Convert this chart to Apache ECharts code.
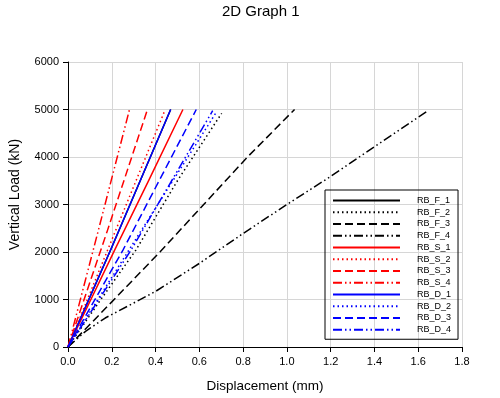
<!DOCTYPE html>
<html>
<head>
<meta charset="utf-8">
<script src="https://cdn.jsdelivr.net/npm/echarts@6/dist/echarts.min.js"></script>
<style>
	html, body {margin: 0; padding: 0; background: #fff;}
	#chart-holder {width: 500px; height: 398px;}
</style>
</head>
<body>
<div id="chart-holder"></div>
<script type="text/javascript">
	// 数据 (displacement mm / load kN)
	var names = ['RB_F_1', 'RB_F_2', 'RB_F_3', 'RB_F_4', 'RB_S_1', 'RB_S_2', 'RB_S_3', 'RB_S_4', 'RB_D_1', 'RB_D_2', 'RB_D_3', 'RB_D_4'];
	var colors = ['#000000', '#000000', '#000000', '#000000', '#ff0000', '#ff0000', '#ff0000', '#ff0000', '#0000ff', '#0000ff', '#0000ff', '#0000ff'];

	var rbF1Disp = [0, 0.2, 0.469];
	var rbF1Load = [0, 2100, 5000];
	var rbF2Disp = [0, 0.15, 0.31, 0.5, 0.702];
	var rbF2Load = [0, 1000, 2040, 3500, 4920];
	var rbF3Disp = [0, 0.2, 0.42, 0.62, 0.82, 1.035];
	var rbF3Load = [0, 950, 2000, 3000, 4000, 5000];
	var rbF4Disp = [0, 0.08, 0.17, 0.4, 0.6, 0.8, 1.0, 1.2, 1.33, 1.637];
	var rbF4Load = [0, 330, 610, 1170, 1760, 2390, 3000, 3590, 4000, 4950];
	var rbS1Disp = [0, 0.213, 0.37, 0.525];
	var rbS1Load = [0, 2040, 3520, 5000];
	var rbS2Disp = [0, 0.22, 0.439];
	var rbS2Load = [0, 2480, 4940];
	var rbS3Disp = [0, 0.18, 0.363];
	var rbS3Load = [0, 2450, 5000];
	var rbS4Disp = [0, 0.14, 0.281];
	var rbS4Load = [0, 2480, 5000];
	var rbD1Disp = [0, 0.2, 0.469];
	var rbD1Load = [0, 2100, 5000];
	var rbD2Disp = [0, 0.3, 0.68];
	var rbD2Load = [0, 2200, 4960];
	var rbD3Disp = [0, 0.251, 0.586];
	var rbD3Load = [0, 2040, 5000];
	var rbD4Disp = [0, 0.288, 0.661];
	var rbD4Load = [0, 2040, 4975];

	var xTicks = [0, 0.2, 0.4, 0.6, 0.8, 1.0, 1.2, 1.4, 1.6, 1.8];
	var yTicks = [0, 1000, 2000, 3000, 4000, 5000, 6000];

	var disps = [rbF1Disp, rbF2Disp, rbF3Disp, rbF4Disp, rbS1Disp, rbS2Disp, rbS3Disp, rbS4Disp, rbD1Disp, rbD2Disp, rbD3Disp, rbD4Disp];
	var loads = [rbF1Load, rbF2Load, rbF3Load, rbF4Load, rbS1Load, rbS2Load, rbS3Load, rbS4Load, rbD1Load, rbD2Load, rbD3Load, rbD4Load];

	// 线型: 实线, 点线, 虚线, 点划线
	var dashes = ['solid', [1.5, 3], [8, 4], [9, 3, 1.5, 3, 1.5, 3]];

	var font = '"Liberation Sans", Arial, sans-serif';
	var series = [];
	for (var i = 0; i < names.length; i++) {
		var data = [];
		for (var j = 0; j < disps[i].length; j++) {
			data.push([disps[i][j], loads[i][j]]);
		}
		series.push({
			name: names[i],
			type: 'line',
			symbol: 'none',
			silent: true,
			animation: false,
			data: data,
			lineStyle: {color: colors[i], width: 1.5, type: dashes[i % 4]},
			itemStyle: {color: colors[i]}
		});
	}

	var option = {
		backgroundColor: '#fff',
		textStyle: {fontFamily: font},
		title: {
			text: '2D Graph 1',
			left: 222,
			top: 4,
			padding: 0,
			textStyle: {fontSize: 15, fontWeight: 'normal', color: '#000', fontFamily: font}
		},
		legend: {
			orient: 'vertical',
			left: 325,
			top: 190,
			padding: [5, 7, 4, 7],
			borderColor: '#000',
			borderWidth: 1,
			borderRadius: 0,
			itemWidth: 67,
			itemHeight: 11,
			itemGap: 0.75,
			itemStyle: {opacity: 0},
			selectedMode: false,
			data: names,
			textStyle: {fontSize: 9, color: '#000', fontFamily: font, lineHeight: 11, padding: [0, 0, 0, 12]}
		},
		grid: {
			left: 63,
			right: 38,
			top: 62,
			bottom: 51
		},
		xAxis: {
			type: 'value',
			min: xTicks[0],
			max: xTicks[xTicks.length - 1],
			interval: 0.2,
			name: 'Displacement (mm)',
			nameLocation: 'middle',
			nameGap: 32,
			nameTextStyle: {fontSize: 13.5, color: '#000', fontFamily: font},
			axisLine: {show: true, onZero: false, lineStyle: {color: '#000', width: 1}},
			axisTick: {show: true, inside: false, length: 5, lineStyle: {color: '#000'}},
			axisLabel: {
				fontSize: 11, color: '#000', margin: 9, fontFamily: font,
				formatter: function (v) { return v.toFixed(1); }
			},
			splitLine: {show: true, lineStyle: {color: '#d6d6d6', width: 1}}
		},
		yAxis: {
			type: 'value',
			min: yTicks[0],
			max: yTicks[yTicks.length - 1],
			interval: 1000,
			name: 'Vertical Load (kN)',
			nameLocation: 'middle',
			nameGap: 46,
			nameTextStyle: {fontSize: 14, color: '#000', fontFamily: font, padding: [0, 0, 0, 20]},
			axisLine: {show: true, onZero: false, lineStyle: {color: '#000', width: 1}},
			axisTick: {show: true, inside: false, length: 5, lineStyle: {color: '#000'}},
			axisLabel: {
				fontSize: 11, color: '#000', margin: 9, fontFamily: font,
				formatter: function (v) { return String(v); }
			},
			splitLine: {show: true, lineStyle: {color: '#d6d6d6', width: 1}}
		},
		series: series
	};

	var myChart = echarts.init(document.getElementById('chart-holder'), null, {renderer: 'canvas'});
	myChart.setOption(option);
</script>
</body>
</html>
